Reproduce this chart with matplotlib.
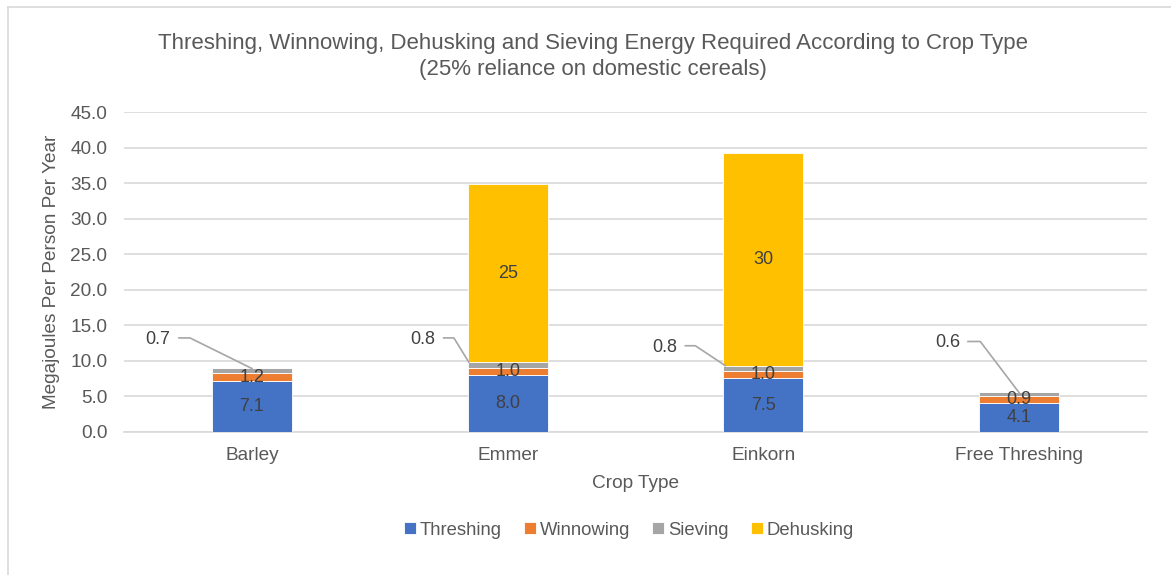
import matplotlib
matplotlib.use("Agg")
import matplotlib.pyplot as plt
from matplotlib.lines import Line2D
import numpy as np

# Data
crops = ["Barley", "Emmer", "Einkorn", "Free Threshing"]
threshing = [7.1, 8.0, 7.5, 4.1]
winnowing = [1.2, 1.0, 1.0, 0.9]
sieving = [0.7, 0.8, 0.8, 0.6]
dehusking = [0.0, 25.0, 30.0, 0.0]
series_names = ["Threshing", "Winnowing", "Sieving", "Dehusking"]
y_ticks = [0.0, 5.0, 10.0, 15.0, 20.0, 25.0, 30.0, 35.0, 40.0, 45.0]

# Styling
colors = ["#4472C4", "#ED7D31", "#A5A5A5", "#FFC000"]
text_grey = "#595959"
label_grey = "#404040"
grid_grey = "#D9D9D9"
font = ["Liberation Sans", "DejaVu Sans"]
plt.rcParams["font.family"] = font

# Callout placement for the sieving labels (x offset of text, text height,
# knee offsets, end offset relative to bar centre)
callout_text_dx = [-0.368, -0.332, -0.387, -0.278]
callout_text_y = [13.0, 13.0, 11.9, 12.5]
callout_start_dx = [-0.285, -0.25, -0.305, -0.20]
callout_knee_dx = [-0.242, -0.21, -0.266, -0.152]
callout_end_dx = [0.0, -0.152, -0.149, 0.0]

fig = plt.figure(figsize=(11.71, 5.75), dpi=100)
ax = fig.add_axes([0.1059, 0.2492, 0.8736, 0.556])

x = np.arange(len(crops))
width = 0.313
series = [threshing, winnowing, sieving, dehusking]
bottom = np.zeros(len(crops))
bottoms = []
for vals, name, col in zip(series, series_names, colors):
    vals = np.array(vals)
    ax.bar(x, vals, width, bottom=bottom, color=col, label=name,
           edgecolor="white", linewidth=0.6, zorder=3)
    bottoms.append(bottom.copy())
    bottom = bottom + vals

# Centred value labels
label_size = 13
for i in range(len(crops)):
    b0 = bottoms[0][i]
    ax.text(x[i], b0 + threshing[i] / 2, f"{threshing[i]:.1f}", ha="center",
            va="center", fontsize=label_size, color=label_grey, zorder=5)
    b1 = bottoms[1][i]
    ax.text(x[i], b1 + winnowing[i] / 2, f"{winnowing[i]:.1f}", ha="center",
            va="center", fontsize=label_size, color=label_grey, zorder=5)
    if dehusking[i] > 0:
        b3 = bottoms[3][i]
        ax.text(x[i], b3 + dehusking[i] / 2, f"{dehusking[i]:.0f}", ha="center",
                va="center", fontsize=label_size, color=label_grey, zorder=5)

# Sieving labels with leader lines
for i in range(len(crops)):
    top_sieve = bottoms[2][i] + sieving[i]
    ax.text(x[i] + callout_text_dx[i], callout_text_y[i], f"{sieving[i]:.1f}",
            ha="center", va="center", fontsize=label_size, color=label_grey, zorder=5)
    end_y = top_sieve - (0.1 if callout_end_dx[i] == 0 else 0.0)
    ax.add_line(Line2D([x[i] + callout_start_dx[i], x[i] + callout_knee_dx[i],
                        x[i] + callout_end_dx[i]],
                       [callout_text_y[i] + 0.2, callout_text_y[i] + 0.2, end_y],
                       color="#A6A6A6", linewidth=1.2, zorder=6))

ax.set_xlim(-0.5, len(crops) - 0.5)
ax.set_ylim(0, 45)
ax.set_yticks(y_ticks)
ax.set_yticklabels([f"{v:.1f}" for v in y_ticks])
ax.set_xticks(x)
ax.set_xticklabels(crops)
ax.tick_params(axis="both", length=0, labelsize=13.7, colors=text_grey)
ax.tick_params(axis="y", pad=12)
ax.tick_params(axis="x", pad=11)
ax.yaxis.grid(True, color=grid_grey, linewidth=1.2, zorder=0)
ax.set_axisbelow(True)
for s in ["top", "right", "left"]:
    ax.spines[s].set_visible(False)
ax.spines["bottom"].set_color(grid_grey)
ax.spines["bottom"].set_linewidth(1.2)

ax.set_xlabel("Crop Type", fontsize=13.7, color=text_grey, labelpad=8)
ax.set_ylabel("Megajoules Per Person Per Year", fontsize=13.7, color=text_grey, labelpad=7)

fig.text(0.506, 0.925, "Threshing, Winnowing, Dehusking and Sieving Energy Required According to Crop Type",
         ha="center", va="center", fontsize=16, color=text_grey)
fig.text(0.506, 0.880, "(25% reliance on domestic cereals)",
         ha="center", va="center", fontsize=16, color=text_grey)

leg = fig.legend(loc="center", bbox_to_anchor=(0.537, 0.078), ncol=4, frameon=False,
                 fontsize=13.3, handlelength=0.65, handleheight=0.65, handletextpad=0.2,
                 columnspacing=1.2)
for t in leg.get_texts():
    t.set_color(text_grey)

# Chart area frame
fig.add_artist(Line2D([8 / 1171, 1.0], [1 - 7 / 575, 1 - 7 / 575],
                      transform=fig.transFigure, color=grid_grey, linewidth=1.2))
fig.add_artist(Line2D([8 / 1171, 8 / 1171], [0.0, 1 - 7 / 575],
                      transform=fig.transFigure, color=grid_grey, linewidth=1.2))

fig.savefig("out.png", dpi=100, facecolor="white")
